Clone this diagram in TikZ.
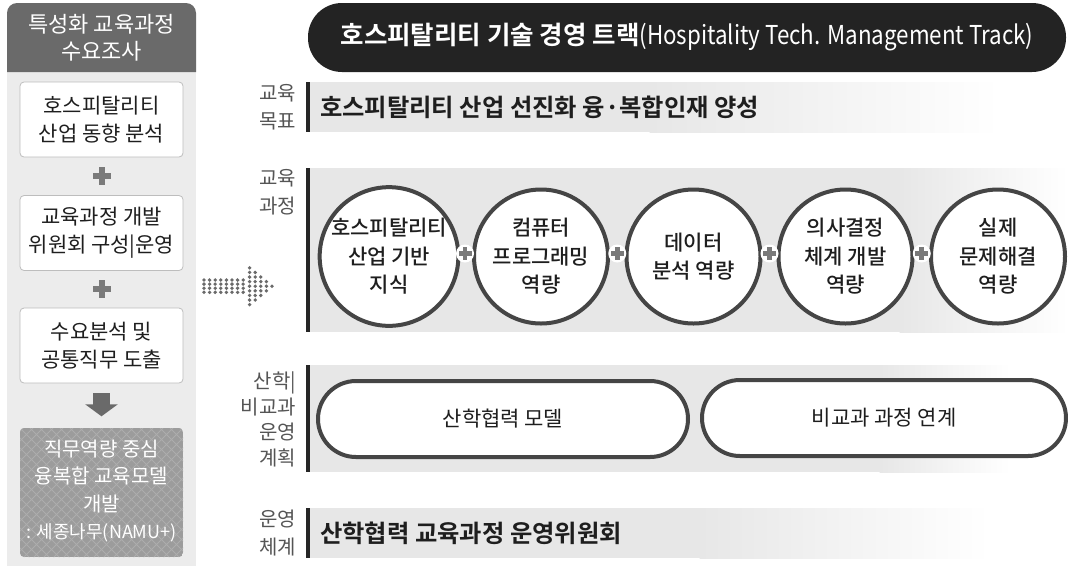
\documentclass[tikz,border=0pt]{standalone}
\usepackage{fontspec}
\setmainfont{Noto Sans CJK KR}[BoldFont={Noto Sans CJK KR Bold}]
\newfontfamily\medfont{Noto Sans CJK KR Medium}
\usetikzlibrary{calc,arrows.meta}
\definecolor{panelbg}{HTML}{ECECEC}
\definecolor{headbg}{HTML}{6A6A6A}
\definecolor{boxline}{HTML}{BDBDBD}
\definecolor{plusgray}{HTML}{7A7A7A}
\definecolor{dotgray}{HTML}{6A6A6A}
\definecolor{finalbg}{HTML}{9C9C9C}
\definecolor{hatchc}{HTML}{ADADAD}
\definecolor{titlebg}{HTML}{232323}
\definecolor{bandgray}{HTML}{E7E7E7}
\definecolor{barc}{HTML}{262626}
\definecolor{lblc}{HTML}{555555}
\definecolor{circline}{HTML}{454545}
\definecolor{txtc}{HTML}{1E1E1E}
\tikzset{
  lbox/.style={draw=boxline, line width=0.8pt, fill=white, rounded corners=4pt,
    minimum width=163pt, minimum height=75pt, align=center, text=txtc,
    font=\fontsize{21}{28}\selectfont, inner sep=0pt},
  headtxt/.style={align=center, text=white, font=\fontsize{22}{27}\selectfont},
  finaltxt/.style={align=center, text=white, font=\fontsize{20}{27.5}\selectfont},
  rowlbl/.style={anchor=east, align=right, text=lblc, font=\fontsize{20}{28}\selectfont, inner sep=0pt},
  bar/.style={draw=barc, line width=3.5pt},
  bandtxt/.style={anchor=west, text=txtc, font=\bfseries\fontsize{24.3}{28}\selectfont, inner sep=0pt},
  circ/.style={circle, draw=circline, line width=4pt, fill=white, minimum size=134pt,
    inner sep=0pt, align=center, text=txtc, font=\medfont\fontsize{21}{28.5}\selectfont},
  pillbox/.style={rounded corners=38pt, draw=circline, line width=4pt, fill=white,
    minimum height=76pt, inner sep=0pt, text=txtc, font=\fontsize{21}{26}\selectfont},
  titlepill/.style={rounded corners=34pt, fill=titlebg, minimum width=758pt, minimum height=69pt,
    text=white, inner sep=0pt},
  pics/bigplus/.style={code={\fill[plusgray] (-9,-3) rectangle (9,3); \fill[plusgray] (-3,-9) rectangle (3,9);}},
  pics/smallplus/.style={code={\fill[white] (0,0) circle (9); \fill[plusgray] (-6.5,-2.3) rectangle (6.5,2.3); \fill[plusgray] (-2.3,-6.5) rectangle (2.3,6.5);}},
}
\begin{document}
\begin{tikzpicture}[x=1pt,y=-1pt]
\useasboundingbox (0,0) rectangle (1068,566);
\fill[white] (0,0) rectangle (1068,566);
% ---------- left panel ----------
\fill[panelbg] (7,72) rectangle (196,566);
\fill[headbg] (7,72) [rounded corners=10pt]-- (7,3) -- (196,3) [sharp corners]-- (196,72) -- cycle;
\node[headtxt] (head) at (101.5,38) {특성화 교육과정\\수요조사};
\node[lbox] (b1) at (101.5,119.5) {호스피탈리티\\산업 동향 분석};
\node[lbox] (b2) at (101.5,233) {교육과정 개발\\위원회 구성|운영};
\node[lbox] (b3) at (101.5,345.5) {수요분석 및\\공통직무 도출};
\pic at ($(b1.south)!0.5!(b2.north)$) {bigplus};
\pic at ($(b2.south)!0.5!(b3.north)$) {bigplus};
% final box
\begin{scope}
  \clip[rounded corners=4pt] (20,428) rectangle (183,557);
  \fill[finalbg] (20,428) rectangle (183,557);
  \foreach \i in {-140,-130,...,170} {
    \draw[hatchc, line width=0.9pt] (20+\i,428) -- ++(130,130);
    \draw[hatchc, line width=0.9pt] (183-\i,428) -- ++(-130,130);
  }
\end{scope}
\node[finaltxt, minimum width=163pt, minimum height=129pt, inner sep=0pt] (b4) at (101.5,491)
  {직무역량 중심\\융복합 교육모델\\개발\\{\fontsize{18}{27.5}\selectfont : 세종나무(NAMU+)}};
\draw[headbg, line width=17pt, -{Triangle[width=32pt,length=12pt]}] ($(b3.south)+(0,10)$) -- ($(b4.north)+(0,-10)$);
% ---------- dotted arrow ----------
\foreach \i in {0,...,7} {
  \foreach \j in {280,284.1,288.2,292.3} {
    \fill[dotgray] (204+5.6*\i,\j) circle (1.9);
  }
}
\foreach \k/\n in {0/4,1/3,2/2,3/1,4/0} {
  \foreach \j in {-\n,...,\n} {
    \fill[dotgray] (249.6+5.6*\k,286.2+4.6*\j) circle (1.9);
  }
}
% ---------- title ----------
\node[titlepill] (title) at (687,37.5)
  {\bfseries\fontsize{25.5}{28}\selectfont 호스피탈리티 기술 경영 트랙\mdseries\scalebox{0.86}[1]{\fontsize{26}{28}\selectfont(Hospitality Tech. Management Track)}};
% ---------- row 1 ----------
\fill[bandgray] (310,82) rectangle (650,132);
\shade[left color=bandgray, right color=white] (649.5,82) rectangle (1000,132);
\draw[bar] (308,82) -- (308,132);
\node[rowlbl] (l1) at (296,107) {교육\\목표};
\node[bandtxt] (t1) at (320,107) {호스피탈리티 산업 선진화 융·복합인재 양성};
% ---------- row 2 ----------
\fill[bandgray] (310,168) rectangle (900,332);
\shade[left color=bandgray, right color=white] (899.5,168) rectangle (1068,332);
\draw[bar] (308,168) -- (308,332);
\node[rowlbl] (l2) at (296,192) {교육\\과정};
\node[circ] (c1) at (389,256.5) {호스피탈리티\\산업 기반\\지식};
\node[circ] (c2) at (541,256.5) {컴퓨터\\프로그래밍\\역량};
\node[circ] (c3) at (693.5,256.5) {데이터\\분석 역량};
\node[circ] (c4) at (845.5,256.5) {의사결정\\체계 개발\\역량};
\node[circ] (c5) at (998,256.5) {실제\\문제해결\\역량};
\pic at ($(c1)!0.5!(c2)+(0,-3)$) {smallplus};
\pic at ($(c2)!0.5!(c3)+(0,-3)$) {smallplus};
\pic at ($(c3)!0.5!(c4)+(0,-3)$) {smallplus};
\pic at ($(c4)!0.5!(c5)+(0,-3)$) {smallplus};
% ---------- row 3 ----------
\fill[bandgray] (310,365) rectangle (880,472);
\shade[left color=bandgray, right color=white] (879.5,365) rectangle (1010,472);
\draw[bar] (308,365) -- (308,472);
\node[rowlbl, font=\fontsize{20}{25.7}\selectfont] (l3) at (296,419.5) {산학|\\비교과\\운영\\계획};
\node[pillbox, minimum width=370pt] (p1) at (503,419) {산학협력 모델};
\node[pillbox, minimum width=364pt] (p2) at (884,418) {비교과 과정 연계};
% ---------- row 4 ----------
\fill[bandgray] (310,508) rectangle (700,558);
\shade[left color=bandgray, right color=white] (699.5,508) rectangle (990,558);
\draw[bar] (308,508) -- (308,558);
\node[rowlbl] (l4) at (296,532.5) {운영\\체계};
\node[bandtxt] (t4) at (320,533) {산학협력 교육과정 운영위원회};
\end{tikzpicture}
\end{document}
